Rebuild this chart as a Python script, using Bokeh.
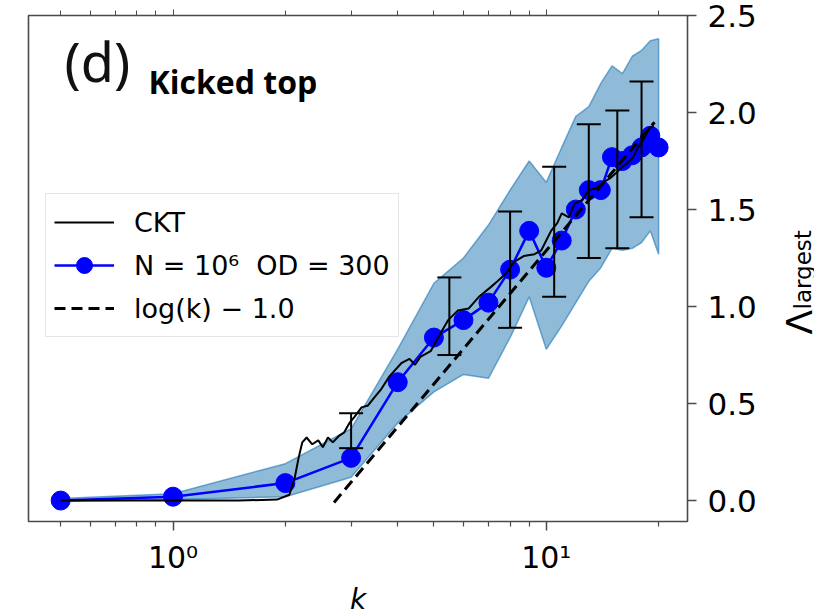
import math
from bokeh.plotting import figure
from bokeh.layouts import row
from bokeh.core.properties import value
from bokeh.models import (LogAxis, FixedTicker, Whisker, TeeHead, ColumnDataSource,
                          Legend, LegendItem, Label, Range1d, PrintfTickFormatter)
from bokeh.embed import file_html
from bokeh.resources import INLINE

# ---------------- data ----------------
k_od = [0.5, 1, 2, 3, 4, 5, 6, 7, 8, 9, 10, 11, 12, 13, 14, 15, 16, 17, 18, 19, 20]
lam_od = [0.00, 0.02, 0.09, 0.22, 0.61, 0.84, 0.93, 1.02, 1.19, 1.39, 1.20,
          1.34, 1.50, 1.60, 1.60, 1.77, 1.75, 1.78, 1.82, 1.88, 1.82]
band_hi = [0.01, 0.035, 0.19, 0.37, 0.78, 1.12, 1.25, 1.42, 1.60, 1.75, 1.64,
           1.82, 1.98, 2.03, 2.15, 2.24, 2.20, 2.29, 2.32, 2.37, 2.38]
band_lo = [-0.005, 0.005, 0.02, 0.12, 0.40, 0.56, 0.65, 0.63, 0.84, 1.05, 0.78,
           0.90, 1.02, 1.13, 1.20, 1.30, 1.29, 1.30, 1.33, 1.39, 1.27]

k_ckt = [0.5, 1.0, 1.5, 1.9, 2.05, 2.12, 2.17, 2.22, 2.28, 2.36, 2.45, 2.52, 2.6,
         2.68, 2.79, 2.87, 2.97, 3.06, 3.2, 3.33, 3.46, 3.6, 3.8, 4.1, 4.3, 4.45,
         4.6, 4.9, 5.2, 5.46, 5.8, 6.2, 6.6, 7.1, 7.4, 7.8, 8.2, 8.7, 9.3, 9.7,
         10.3, 10.7, 11.0, 11.5, 11.9, 12.5, 13.0, 13.6, 14.2, 14.8, 15.4, 16.0,
         16.5, 17.1, 17.6, 18.2, 18.9, 19.4]
lam_ckt = [0.0, 0.0, 0.0, 0.005, 0.03, 0.12, 0.22, 0.30, 0.325, 0.29, 0.31, 0.275,
           0.325, 0.30, 0.335, 0.35, 0.40, 0.43, 0.48, 0.49, 0.53, 0.57, 0.64,
           0.71, 0.73, 0.70, 0.74, 0.77, 0.86, 0.93, 0.98, 0.99, 1.05, 1.10, 1.13,
           1.17, 1.23, 1.26, 1.27, 1.29, 1.39, 1.43, 1.48, 1.46, 1.53, 1.55, 1.60,
           1.61, 1.64, 1.66, 1.69, 1.72, 1.74, 1.77, 1.82, 1.86, 1.92, 1.93]

k_dash = [2.7, 19.5]
lam_dash = [-0.01, 1.95]

k_err = [3.0, 5.5, 8.0, 10.5, 13.0, 15.5, 18.0]
err_lo = [0.27, 0.75, 0.89, 1.05, 1.25, 1.30, 1.46]
err_hi = [0.45, 1.15, 1.49, 1.72, 1.94, 2.01, 2.16]

x_major = [1, 10]
x_minor = [0.5, 0.6, 0.7, 0.8, 0.9, 2, 3, 4, 5, 6, 7, 8, 9, 20]
x_labels = {1: "10⁰", 10: "10¹"}
y_ticks = [0.0, 0.5, 1.0, 1.5, 2.0, 2.5]

# ---------------- main figure ----------------
p = figure(frame_width=659, frame_height=506, x_axis_type="log",
           y_axis_location="right",
           x_range=Range1d(0.41, 23.9), y_range=Range1d(-0.108, 2.5),
           output_backend="svg", toolbar_location=None,
           min_border_left=28, min_border_top=15, min_border_right=85,
           min_border_bottom=80)
p.grid.visible = False
p.outline_line_color = "#4a4a4a"
p.outline_line_width = 1.6
p.background_fill_color = "white"
p.border_fill_color = "white"

AX = "#4a4a4a"
xa = p.xaxis[0]
xa.ticker = FixedTicker(ticks=x_major, minor_ticks=x_minor)
xa.major_label_overrides = x_labels
xa.major_label_text_font = "DejaVu Sans"
xa.major_label_text_font_size = "30px"
xa.major_label_text_color = "black"
xa.major_label_standoff = 9
xa.major_tick_out = 9
xa.major_tick_in = 0
xa.minor_tick_out = 5
xa.minor_tick_in = 0
xa.axis_line_color = AX
xa.major_tick_line_color = AX
xa.minor_tick_line_color = AX
xa.major_tick_line_width = 1.5
xa.minor_tick_line_width = 1.2
xa.axis_label = "k"
xa.axis_label_text_font = "DejaVu Sans"
xa.axis_label_text_font_style = "italic"
xa.axis_label_text_font_size = "28px"
xa.axis_label_text_color = "black"
xa.axis_label_standoff = 5

top = LogAxis(ticker=FixedTicker(ticks=x_major, minor_ticks=x_minor),
              major_label_overrides={1: "", 10: ""},
              major_label_text_font_size="4px", major_label_text_color=None,
              major_label_standoff=0,
              major_tick_out=6, major_tick_in=0, minor_tick_out=5, minor_tick_in=0,
              axis_line_color=AX, major_tick_line_color=AX, minor_tick_line_color=AX)
p.add_layout(top, "above")

ya = p.yaxis[0]
ya.ticker = FixedTicker(ticks=y_ticks)
ya.formatter = PrintfTickFormatter(format="%.1f")
ya.major_label_text_font = "DejaVu Sans"
ya.major_label_text_font_size = "31px"
ya.major_label_text_color = "black"
ya.major_label_standoff = 11
ya.major_tick_out = 9
ya.major_tick_in = 0
ya.minor_tick_line_color = None
ya.axis_line_color = AX
ya.major_tick_line_color = AX
ya.major_tick_line_width = 1.5

# ---------------- glyphs ----------------
band_x = k_od + k_od[::-1]
band_y = band_hi + band_lo[::-1]
p.patch(band_x, band_y, fill_color="#1f77b4", fill_alpha=0.5,
        line_color="#1f77b4", line_alpha=0.6, line_width=1.5)

od_line = p.line(k_od, lam_od, line_color="#0000ff", line_width=2.5)
od_pts = p.scatter(k_od, lam_od, size=19, fill_color="#0000ff", line_color="#0000ff")

ckt = p.line(k_ckt, lam_ckt, line_color="black", line_width=2)

dash = p.line(k_dash, lam_dash, line_color="black", line_width=3, line_dash="11 6")

err_src = ColumnDataSource(dict(k=k_err, lo=err_lo, hi=err_hi))
wh = Whisker(base="k", lower="lo", upper="hi", source=err_src, dimension="height",
             line_color="black", line_width=2, level="annotation",
             upper_head=TeeHead(size=24, line_color="black", line_width=2),
             lower_head=TeeHead(size=24, line_color="black", line_width=2))
p.add_layout(wh)

# ---------------- legend ----------------
items = [LegendItem(label="CKT", renderers=[ckt]),
         LegendItem(label="N = 10⁶  OD = 300", renderers=[od_line, od_pts]),
         LegendItem(label="log(k) − 1.0", renderers=[dash])]
legend = Legend(items=items, location=(17, 184),
                label_text_font="DejaVu Sans", label_text_font_size="27px",
                label_text_color="black",
                glyph_width=60, glyph_height=40, label_height=40,
                label_standoff=20, spacing=3, padding=8, margin=0,
                border_line_color="#cccccc", border_line_width=1.5,
                background_fill_alpha=0.85)
p.add_layout(legend)

# ---------------- in-plot texts ----------------
p.add_layout(Label(x=36, y=424, x_units="screen", y_units="screen", text="(d)",
                   text_font="Noto Sans", text_font_size="54px",
                   text_color="#111111"))
p.add_layout(Label(x=120, y=419, x_units="screen", y_units="screen", text="Kicked top",
                   text_font="Open Sans", text_font_style="bold", text_font_size="32px",
                   text_color="black"))

# ---------------- y-axis title strip (reads bottom to top) ----------------
q = figure(frame_width=42, frame_height=616, x_range=Range1d(0, 42),
           y_range=Range1d(616, 0), output_backend="svg", toolbar_location=None,
           min_border=0, x_axis_location=None, y_axis_location=None)
q.grid.visible = False
q.outline_line_color = None
q.background_fill_color = "white"
q.border_fill_color = "white"
q.text(x=[27], y=[319], text=["Λ"], angle=math.pi / 2,
       text_font=value("DejaVu Sans"), text_font_size="36px",
       text_align="left", text_baseline="alphabetic", text_color="black")
q.text(x=[30], y=[294], text=["largest"], angle=math.pi / 2,
       text_font=value("DejaVu Sans"), text_font_size="23px",
       text_align="left", text_baseline="alphabetic", text_color="black")

layout = row(p, q)
open("out.html", "w").write(file_html(layout, INLINE))
